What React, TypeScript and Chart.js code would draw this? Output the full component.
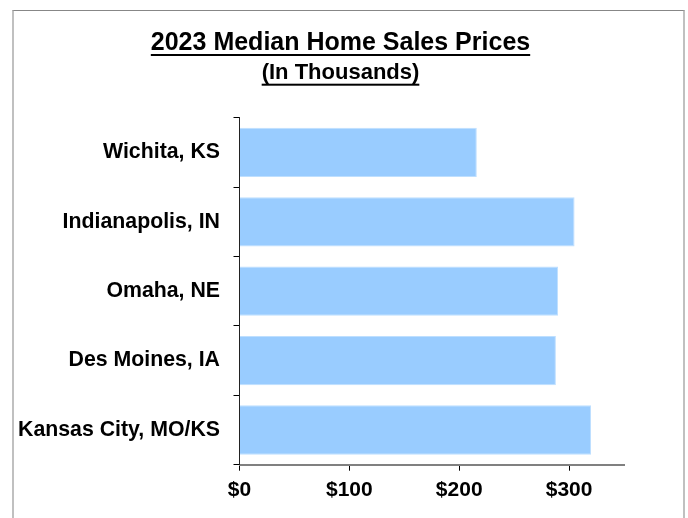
import React, { useEffect, useRef } from "react";
import { Chart, registerables } from "chart.js";

Chart.register(...registerables);

const categories = [
  "Wichita, KS",
  "Indianapolis, IN",
  "Omaha, NE",
  "Des Moines, IA",
  "Kansas City, MO/KS",
];
const medianPrices = [216, 305, 290, 288, 320];
const xTickValues = [0, 100, 200, 300];
const xMin = 0;
const xMax = 350;
const titleText = "2023 Median Home Sales Prices";
const subtitleText = "(In Thousands)";

const FONT = "'Liberation Sans', Arial, Helvetica, sans-serif";

const underlinePlugin = {
  id: "titleUnderline",
  afterLayout(chart: any) {
    chart.boxes.forEach((b: any) => {
      if (b.position === "top") {
        b.left = 0;
        b.right = 681;
        b.width = 681;
      }
    });
  },
  afterDraw(chart: any) {
    const ctx = chart.ctx;
    chart.boxes.forEach((b: any) => {
      if (b.position !== "top" || !b.options || typeof b.options.text !== "string") return;
      if (!b.options.display) return;
      const size = b.options.font.size;
      ctx.save();
      ctx.font = `bold ${size}px ${FONT}`;
      const w = ctx.measureText(b.options.text).width;
      const lh = size * 1.2;
      const padTop = b._padding ? b._padding.top : 0;
      const mid = b.top + padTop + lh / 2;
      const cx = (b.left + b.right) / 2;
      const y = mid + 12;
      ctx.fillStyle = "#000";
      ctx.fillRect(cx - w / 2, y - 1, w, 2);
      ctx.restore();
    });
  },
};

export default function App() {
  const canvasRef = useRef<HTMLCanvasElement | null>(null);

  useEffect(() => {
    if (!canvasRef.current) return;
    const chart = new Chart(canvasRef.current, {
      type: "bar",
      data: {
        labels: categories,
        datasets: [
          {
            data: medianPrices,
            backgroundColor: "#99CCFF",
            borderColor: "#BEDFFF",
            borderWidth: 1,
            barPercentage: 0.71,
            categoryPercentage: 1,
          },
        ],
      },
      plugins: [underlinePlugin],
      options: {
        indexAxis: "y",
        responsive: false,
        animation: false,
        devicePixelRatio: 1,
        layout: { padding: { top: 0, left: 0, right: 64, bottom: 15.9 } },
        plugins: {
          legend: { display: false },
          tooltip: { enabled: false },
          title: {
            display: true,
            text: titleText,
            color: "#000",
            font: { family: FONT, size: 25, weight: "bold", lineHeight: 1.2 },
            padding: { top: 28, bottom: 1.5 },
          },
          subtitle: {
            display: true,
            text: subtitleText,
            color: "#000",
            font: { family: FONT, size: 22, weight: "bold", lineHeight: 1.2 },
            padding: { top: 0, bottom: 31.8 },
          },
        },
        scales: {
          x: {
            type: "linear",
            position: "bottom",
            min: xMin,
            max: xMax,
            afterBuildTicks: (s: any) => {
              s.ticks = xTickValues.map((v) => ({ value: v }));
            },
            afterFit: (s: any) => {
              s.height = 37.4;
            },
            ticks: {
              autoSkip: false,
              maxRotation: 0,
              padding: 7,
              color: "#000",
              font: { family: FONT, size: 21, weight: "bold" },
              callback: (v: any) => "$" + v,
            },
            grid: {
              drawOnChartArea: false,
              drawTicks: true,
              tickLength: 6,
              color: "#000",
              lineWidth: 1,
            },
            border: { display: true, color: "#808080", width: 2 },
          },
          y: {
            type: "category",
            afterFit: (s: any) => {
              s.width = 239.5;
            },
            ticks: {
              autoSkip: false,
              padding: 13.5,
              color: "#000",
              font: { family: FONT, size: 21.3, weight: "bold" },
            },
            grid: {
              drawOnChartArea: false,
              drawTicks: true,
              tickLength: 6,
              color: "#000",
              lineWidth: 1,
              offset: true,
            },
            border: { display: true, color: "#222", width: 1 },
          },
        },
      },
    } as any);
    return () => chart.destroy();
  }, []);

  return (
    <div
      style={{
        position: "absolute",
        left: 0,
        top: 0,
        width: 688,
        height: 518,
        overflow: "hidden",
        background: "#fff",
      }}
    >
      <canvas
        ref={canvasRef}
        width={688}
        height={518}
        style={{ position: "absolute", left: 0, top: 0, width: 688, height: 518 }}
      />
      <div
        style={{
          position: "absolute",
          left: 12,
          top: 10,
          width: 669,
          height: 507,
          borderTop: "1px solid #878787",
          borderLeft: "2px solid #c0c0c0",
          borderRight: "2px solid #c0c0c0",
          pointerEvents: "none",
        }}
      />
    </div>
  );
}
